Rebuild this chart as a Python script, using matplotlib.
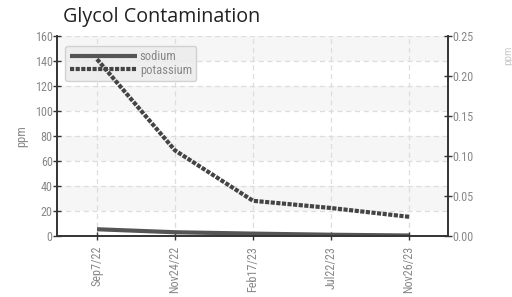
import matplotlib
matplotlib.use("Agg")
import matplotlib.pyplot as plt

dates = ["Sep7/22", "Nov24/22", "Feb17/23", "Jul22/23", "Nov26/23"]
sodium = [5.4, 3.0, 1.9, 1.0, 0.4]          # ppm, left axis
potassium = [0.221, 0.107, 0.044, 0.035, 0.024]  # right axis

tickfont = "Roboto Condensed"
grey = "#888888"

fig = plt.figure(figsize=(5.12, 2.97), dpi=100)
ax = fig.add_axes([57/512, 1 - 236/297, (448-57)/512, (236-36)/297])
ax2 = ax.twinx()

x = list(range(len(dates)))

# alternating background bands
for lo in range(20, 160, 40):
    ax.axhspan(lo, lo + 20, color="#f6f6f6", zorder=0, lw=0)

ax.set_ylim(0, 160)
ax.set_yticks(range(0, 161, 20))
ax.set_xlim(-0.513, 4.5)
ax.set_xticks(x)
ax.set_xticklabels(dates, rotation=90, fontfamily=tickfont, fontsize=8.7, color=grey)
for lbl in ax.get_yticklabels():
    lbl.set_fontfamily(tickfont)
    lbl.set_fontsize(8.7)
    lbl.set_color(grey)
ax.grid(True, ls=(0, (4, 3)), color="#dddddd", lw=0.9)
ax.set_axisbelow(True)

ax2.set_ylim(0, 0.25)
ax2.set_yticks([0, 0.05, 0.10, 0.15, 0.20, 0.25])
ax2.set_yticklabels(["0.00", "0.05", "0.10", "0.15", "0.20", "0.25"],
                    fontfamily=tickfont, fontsize=8.7, color=grey)

for a in (ax, ax2):
    a.spines["top"].set_visible(False)
    for s in ("left", "right", "bottom"):
        a.spines[s].set_color("#333333")
        a.spines[s].set_linewidth(1.2)
    a.tick_params(direction="inout", length=6, width=1, color="#333333", pad=0)
ax.tick_params(axis="x", pad=4)

l1, = ax.plot(x, sodium, color="#555555", lw=3, label="sodium",
              solid_capstyle="butt", zorder=3)
l2, = ax2.plot(x, potassium, color="#444444", lw=3, ls=(0, (1, 0.35)),
               label="potassium", zorder=3)

leg = ax.legend([l1, l2], ["sodium", "potassium"], loc="upper left",
                bbox_to_anchor=(0.012, 0.97), handlelength=5.4, handletextpad=0.2,
                prop={"family": tickfont, "size": 9},
                frameon=True, fancybox=True, borderpad=0.35, labelspacing=0.05,
                borderaxespad=0.3)
leg.get_frame().set_facecolor("#ececec")
leg.get_frame().set_edgecolor("#cccccc")
leg.get_frame().set_alpha(0.85)
for t in leg.get_texts():
    t.set_color(grey)
leg.set_zorder(5)

ax.set_ylabel("ppm", fontfamily=tickfont, fontsize=9, color=grey, labelpad=5)

fig.text(63/512, 1 - 17/297, "Glycol Contamination", fontfamily="Open Sans",
         fontsize=14.2, color="#222222", va="center", ha="left")
fig.text(503/512, 1 - 55/297, "ppm", rotation=90, fontfamily=tickfont,
         fontsize=8, color="#cccccc", va="center", ha="left")

fig.savefig("out.png", dpi=100)
